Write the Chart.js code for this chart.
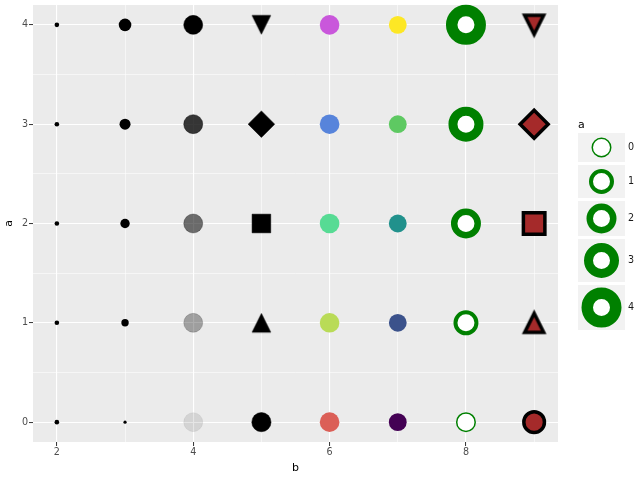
<!DOCTYPE html>
<html>
<head>
<meta charset="utf-8">
<script src="https://cdn.jsdelivr.net/npm/chart.js@4.4.0/dist/chart.umd.min.js"></script>
<style>
    html, body { margin: 0; padding: 0; background: #ffffff; }
    #wrap { width: 640px; height: 480px; }
</style>
</head>
<body>
<div id="wrap"><canvas id="grafico"></canvas></div>
<script>
// -----------------------------
// Datos
// -----------------------------
const bValues = [2, 3, 4, 5, 6, 7, 8, 9];
const aValues = [0, 1, 2, 3, 4];
const xMajorTicks = [2, 4, 6, 8];
const xMinorTicks = [3, 5, 7, 9];
const yMajorTicks = [0, 1, 2, 3, 4];
const yMinorTicks = [0.5, 1.5, 2.5, 3.5];
const legendLabels = ['0', '1', '2', '3', '4'];

// -----------------------------
// Estilos por nivel de "a"
// -----------------------------
const FONT = "'DejaVu Sans', sans-serif";
const sizeLevels = [1.6, 3.7, 4.7, 5.5, 6.3];
const alphaLevels = [0.1, 0.325, 0.55, 0.775, 1];
const shapeLevels = ['circle', 'triangleUp', 'square', 'diamond', 'triangleDown'];
const hueColors = ['#db5f57', '#b9db57', '#57db94', '#5784db', '#c957db'];
const viridisColors = ['#440154', '#3b528b', '#21918c', '#5ec962', '#fde725'];
const strokeLevels = [1.5, 4, 6.5, 9, 11.5];

// triangulo estilo matplotlib (ancho = alto)
function Triangulo(half, fill, stroke, lw) {
    const pad = Math.ceil(lw * 2 + 2);
    const size = Math.round((half + pad) * 2);
    const c = document.createElement('canvas');
    c.width = size; c.height = size;
    const g = c.getContext('2d');
    const m = size / 2;
    g.beginPath();
    g.moveTo(m, m - half);
    g.lineTo(m + half, m + half);
    g.lineTo(m - half, m + half);
    g.closePath();
    g.fillStyle = fill;
    g.fill();
    if (lw > 0) {
        g.lineJoin = 'miter';
        g.lineWidth = lw;
        g.strokeStyle = stroke;
        g.stroke();
    }
    return c;
}

const triNegro = Triangulo(9.4, '#000000', '#000000', 0.5);
const triMarron = Triangulo(9.5, '#a52a2a', '#000000', 3.5);

function Forma(shape, fill, stroke, lw, tri, r) {
    if (shape === 'circle') return { style: 'circle', r: r.circle, rot: 0, bg: fill, bc: stroke, bw: lw };
    if (shape === 'square') return { style: 'rect', r: r.square, rot: 0, bg: fill, bc: stroke, bw: lw };
    if (shape === 'diamond') return { style: 'rectRot', r: r.diamond, rot: 0, bg: fill, bc: stroke, bw: lw };
    return { style: tri, r: 10, rot: shape === 'triangleDown' ? 180 : 0, bg: fill, bc: stroke, bw: 0 };
}

function Estilo(b, i) {
    switch (b) {
        case 2: return { style: 'circle', r: 2.3, rot: 0, bg: '#000', bc: '#000', bw: 0 };
        case 3: return { style: 'circle', r: sizeLevels[i], rot: 0, bg: '#000', bc: '#000', bw: 0 };
        case 4: {
            const col = `rgba(0,0,0,${alphaLevels[i]})`;
            return { style: 'circle', r: 9.5, rot: 0, bg: col, bc: col, bw: 0.5 };
        }
        case 5: return Forma(shapeLevels[i], '#000', '#000', 0.5, triNegro, { circle: 9.6, square: 13.2, diamond: 13.3 });
        case 6: return { style: 'circle', r: 9.8, rot: 0, bg: hueColors[i], bc: hueColors[i], bw: 0 };
        case 7: return { style: 'circle', r: 8.9, rot: 0, bg: viridisColors[i], bc: viridisColors[i], bw: 0 };
        case 8: return { style: 'circle', r: 8.5 + strokeLevels[i] / 2, rot: 0, bg: '#ffffff', bc: '#008000', bw: strokeLevels[i] };
        default: return Forma(shapeLevels[i], '#a52a2a', '#000', 3.5, triMarron, { circle: 10.3, square: 15.2, diamond: 14 });
    }
}

const datasets = bValues.map(b => {
    const st = aValues.map((a, i) => Estilo(b, i));
    return {
        label: 'b' + b,
        data: aValues.map(a => ({ x: b, y: a })),
        pointRadius: st.map(s => s.r),
        pointStyle: st.map(s => s.style),
        pointRotation: st.map(s => s.rot),
        pointBackgroundColor: st.map(s => s.bg),
        pointBorderColor: st.map(s => s.bc),
        pointBorderWidth: st.map(s => s.bw),
        showLine: false,
        clip: false
    };
});

// -----------------------------
// Plugins: fondo del panel y leyenda
// -----------------------------
const fondoPanel = {
    id: 'fondoPanel',
    beforeDraw(chart) {
        const { ctx, chartArea: a } = chart;
        ctx.save();
        ctx.fillStyle = '#ebebeb';
        ctx.fillRect(a.left, a.top, a.right - a.left, a.bottom - a.top);
        ctx.restore();
    }
};

const leyenda = {
    id: 'leyenda',
    afterDraw(chart) {
        const ctx = chart.ctx;
        const heights = [29, 33, 35, 43, 45];
        const left = 578, width = 47;
        let top = 133;
        ctx.save();
        ctx.fillStyle = '#000';
        ctx.font = `11px ${FONT}`;
        ctx.textBaseline = 'middle';
        ctx.textAlign = 'left';
        ctx.fillText('a', 578, 125);
        legendLabels.forEach((lab, i) => {
            const h = heights[i];
            ctx.fillStyle = '#f2f2f2';
            ctx.fillRect(left, top, width, h);
            const cx = left + width / 2, cy = top + h / 2;
            const w = strokeLevels[i];
            ctx.beginPath();
            ctx.arc(cx, cy, 8.5 + w / 2, 0, Math.PI * 2);
            ctx.fillStyle = '#ffffff';
            ctx.fill();
            ctx.lineWidth = w;
            ctx.strokeStyle = '#008000';
            ctx.stroke();
            ctx.fillStyle = '#1a1a1a';
            ctx.font = `9.6px ${FONT}`;
            ctx.fillText(lab, 628, cy);
            top += h + 3;
        });
        ctx.restore();
    }
};

// -----------------------------
// Grafico
// -----------------------------
const tickFont = { family: FONT, size: 9.6 };
const titleFont = { family: FONT, size: 11 };

new Chart(document.getElementById('grafico'), {
    type: 'scatter',
    data: { datasets },
    options: {
        responsive: true,
        maintainAspectRatio: false,
        animation: false,
        events: [],
        layout: { autoPadding: false, padding: { left: 0, top: 5, right: 82, bottom: 0 } },
        plugins: { legend: { display: false }, tooltip: { enabled: false } },
        scales: {
            x: {
                type: 'linear',
                min: 1.65,
                max: 9.35,
                afterBuildTicks: s => {
                    s.ticks = [...xMajorTicks, ...xMinorTicks].sort((p, q) => p - q).map(v => ({ value: v }));
                },
                afterFit: s => { s.height = 38; s.paddingLeft = 0; s.paddingRight = 0; },
                border: { display: false },
                grid: {
                    color: '#ffffff',
                    lineWidth: c => xMajorTicks.includes(c.tick.value) ? 1.1 : 0.55,
                    drawTicks: true,
                    tickLength: 4,
                    tickWidth: 1,
                    tickColor: c => xMajorTicks.includes(c.tick.value) ? '#333333' : 'rgba(0,0,0,0)'
                },
                ticks: {
                    autoSkip: false,
                    maxRotation: 0,
                    padding: 1,
                    color: '#4d4d4d',
                    font: tickFont,
                    callback: v => xMajorTicks.includes(v) ? String(v) : ''
                },
                title: { display: true, text: 'b', color: '#000', font: titleFont, padding: { top: 0, bottom: 5 } }
            },
            y: {
                type: 'linear',
                min: -0.2,
                max: 4.2,
                afterBuildTicks: s => {
                    s.ticks = [...yMajorTicks, ...yMinorTicks].sort((p, q) => p - q).map(v => ({ value: v }));
                },
                afterFit: s => { s.width = 33; s.paddingTop = 0; s.paddingBottom = 0; },
                border: { display: false },
                grid: {
                    color: '#ffffff',
                    lineWidth: c => yMajorTicks.includes(c.tick.value) ? 1.1 : 0.55,
                    drawTicks: true,
                    tickLength: 4,
                    tickWidth: 1,
                    tickColor: c => yMajorTicks.includes(c.tick.value) ? '#333333' : 'rgba(0,0,0,0)'
                },
                ticks: {
                    autoSkip: false,
                    padding: 1,
                    color: '#4d4d4d',
                    font: tickFont,
                    callback: v => yMajorTicks.includes(v) ? String(v) : ''
                },
                title: { display: true, text: 'a', color: '#000', font: titleFont, padding: { top: 3, bottom: 0 } }
            }
        }
    },
    plugins: [fondoPanel, leyenda]
});
</script>
</body>
</html>
